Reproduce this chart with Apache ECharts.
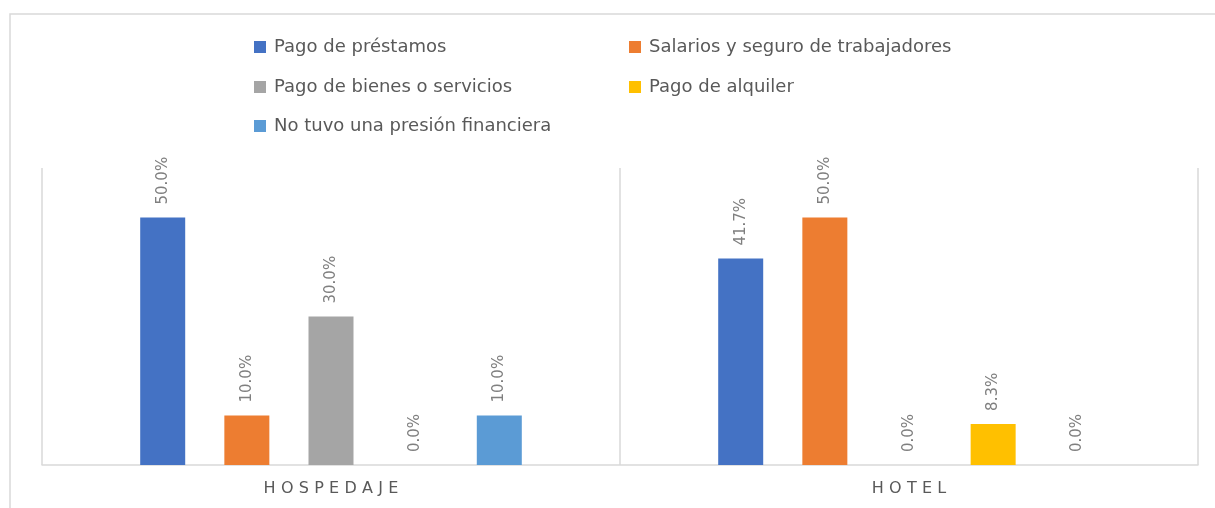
<!DOCTYPE html>
<html>
<head>
<meta charset="utf-8">
<script src="https://cdn.jsdelivr.net/npm/echarts@6/dist/echarts.min.js"></script>
<style>
html,body{margin:0;padding:0;background:#fff;}
#chart{width:1215px;height:508px;}
</style>
</head>
<body>
<div id="chart"></div>
<script>
const categories = ['HOSPEDAJE', 'HOTEL'];
const seriesNames = ['Pago de préstamos', 'Salarios y seguro de trabajadores', 'Pago de bienes o servicios', 'Pago de alquiler', 'No tuvo una presión financiera'];
const pagoPrestamos = [50.0, 41.7];
const salarios = [10.0, 50.0];
const bienesServicios = [30.0, 0.0];
const alquiler = [0.0, 8.3];
const sinPresion = [10.0, 0.0];
const colors = ['#4472C4', '#ED7D31', '#A5A5A5', '#FFC000', '#5B9BD5'];

const values = [pagoPrestamos, salarios, bienesServicios, alquiler, sinPresion];
const FONT = 'DejaVu Sans';

const legendPos = [
  {left: 254, top: 38}, {left: 629, top: 38},
  {left: 254, top: 78}, {left: 629, top: 78},
  {left: 254, top: 117}
];

const chart = echarts.init(document.getElementById('chart'));
chart.setOption({
  animation: false,
  color: colors,
  graphic: [{
    type: 'rect',
    shape: {x: 10, y: 14, width: 1400, height: 700},
    style: {fill: 'none', stroke: '#d9d9d9', lineWidth: 1.5},
    silent: true
  }],
  legend: seriesNames.map((n, i) => ({
    data: [n],
    left: legendPos[i].left,
    top: legendPos[i].top,
    padding: 0,
    icon: 'rect',
    itemWidth: 12,
    itemHeight: 12,
    textStyle: {fontSize: 18, color: '#595959', fontFamily: FONT, padding: [0, 0, 0, 3]}
  })),
  grid: {left: 42, right: 17, top: 168, bottom: 43, containLabel: false},
  xAxis: {
    type: 'category',
    data: categories,
    axisLine: {show: true, lineStyle: {color: '#d9d9d9', width: 1.5}},
    axisTick: {show: false},
    splitLine: {show: true, lineStyle: {color: '#d9d9d9', width: 1.5}},
    axisLabel: {
      margin: 16,
      fontSize: 16,
      color: '#595959',
      fontFamily: FONT,
      formatter: v => v.split('').join('\u2004')
    }
  },
  yAxis: {
    type: 'value',
    min: 0,
    max: 60,
    show: false,
    splitLine: {show: false}
  },
  series: seriesNames.map((n, i) => ({
    name: n,
    type: 'bar',
    data: values[i],
    barWidth: 45,
    barGap: '87%',
    itemStyle: {color: colors[i]},
    label: {
      show: true,
      position: 'top',
      rotate: 90,
      align: 'left',
      verticalAlign: 'middle',
      distance: 13,
      fontSize: 15,
      color: '#7f7f7f',
      fontFamily: FONT,
      formatter: p => p.value.toFixed(1) + '%'
    }
  }))
});
</script>
</body>
</html>
